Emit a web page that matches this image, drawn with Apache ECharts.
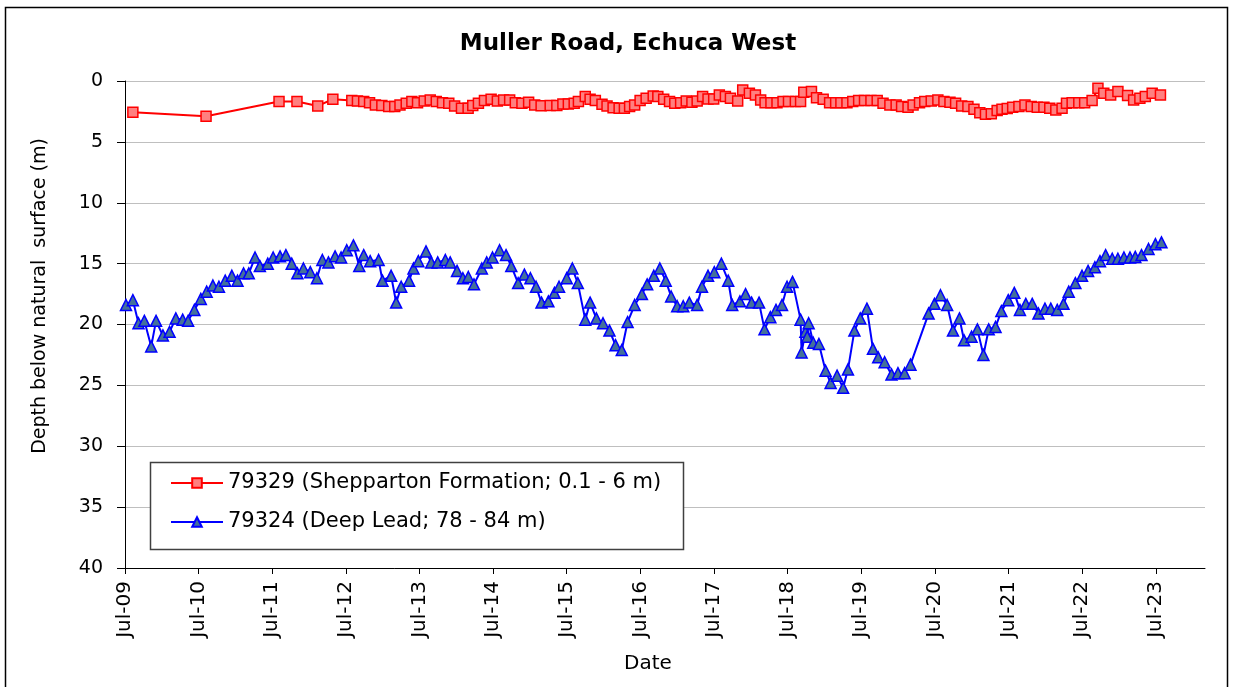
<!DOCTYPE html>
<html><head><meta charset="utf-8">
<script src="https://cdn.jsdelivr.net/npm/echarts@6/dist/echarts.min.js"></script>
<style>html,body{margin:0;padding:0;background:#fff}#c{width:1234px;height:687px}</style>
</head><body><div id="c"></div>
<script>
const chartTitle = 'Muller Road, Echuca West';
const yAxisTitle = 'Depth below natural  surface (m)';
const xAxisTitle = 'Date';
const seriesNames = ['79329 (Shepparton Formation; 0.1 - 6 m)', '79324 (Deep Lead; 78 - 84 m)'];

const xTickDates = ['2009-07-01','2010-07-01','2011-07-01','2012-07-01','2013-07-01','2014-07-01','2015-07-01','2016-07-01','2017-07-01','2018-07-01','2019-07-01','2020-07-01','2021-07-01','2022-07-01','2023-07-01'];
const xTickLabels = ['Jul-09','Jul-10','Jul-11','Jul-12','Jul-13','Jul-14','Jul-15','Jul-16','Jul-17','Jul-18','Jul-19','Jul-20','Jul-21','Jul-22','Jul-23'];
const xMin = '2009-07-01';
const xMax = '2024-03-01';
const yMin = 0, yMax = 40, yStep = 5;

const redDates = ['2009-08-09','2010-08-07','2011-08-04','2011-11-01','2012-02-12','2012-04-27','2012-07-30','2012-08-27','2012-09-27','2012-10-26','2012-11-24','2012-12-26','2013-01-29','2013-02-28','2013-03-26','2013-04-26','2013-05-24','2013-06-21','2013-07-24','2013-08-23','2013-09-22','2013-10-23','2013-11-23','2013-12-22','2014-01-25','2014-02-27','2014-03-22','2014-04-19','2014-05-19','2014-06-21','2014-07-22','2014-08-22','2014-09-21','2014-10-19','2014-11-21','2014-12-24','2015-01-23','2015-02-24','2015-04-10','2015-05-13','2015-06-12','2015-07-09','2015-08-07','2015-08-28','2015-10-01','2015-10-25','2015-11-20','2015-12-23','2016-01-17','2016-02-16','2016-03-17','2016-04-12','2016-05-08','2016-06-02','2016-06-29','2016-07-29','2016-09-02','2016-09-25','2016-10-24','2016-11-22','2016-12-18','2017-01-16','2017-02-13','2017-03-13','2017-04-08','2017-05-05','2017-06-01','2017-06-29','2017-07-27','2017-08-26','2017-09-20','2017-10-26','2017-11-20','2017-12-23','2018-01-22','2018-02-17','2018-03-11','2018-04-09','2018-05-09','2018-06-08','2018-07-05','2018-08-08','2018-09-03','2018-09-19','2018-10-27','2018-11-21','2018-12-24','2019-01-25','2019-02-24','2019-03-22','2019-04-21','2019-05-20','2019-06-18','2019-07-17','2019-08-18','2019-09-18','2019-10-17','2019-11-20','2019-12-21','2020-01-17','2020-02-18','2020-03-14','2020-04-15','2020-05-11','2020-06-12','2020-07-15','2020-08-14','2020-09-13','2020-10-11','2020-11-10','2020-12-11','2021-01-10','2021-02-08','2021-03-08','2021-04-06','2021-05-05','2021-05-29','2021-06-24','2021-07-21','2021-08-21','2021-09-20','2021-10-21','2021-11-20','2021-12-23','2022-01-21','2022-02-20','2022-03-23','2022-04-14','2022-05-12','2022-06-14','2022-07-13','2022-08-19','2022-09-17','2022-10-16','2022-11-19','2022-12-25','2023-02-11','2023-03-13','2023-04-13','2023-05-10','2023-06-13','2023-07-24'];
const redDepth = [2.57,2.9,1.69,1.69,2.05,1.5,1.61,1.64,1.69,1.78,1.97,2.02,2.1,2.1,1.97,1.83,1.69,1.78,1.64,1.56,1.69,1.78,1.83,2.05,2.24,2.24,2.02,1.83,1.61,1.5,1.64,1.56,1.56,1.78,1.83,1.75,1.97,2.03,2.02,2.02,1.89,1.89,1.83,1.69,1.28,1.5,1.61,1.91,2.05,2.19,2.24,2.24,2.1,1.97,1.61,1.42,1.23,1.28,1.5,1.69,1.83,1.78,1.64,1.75,1.64,1.28,1.48,1.48,1.15,1.28,1.42,1.64,0.74,1.01,1.15,1.56,1.78,1.78,1.78,1.69,1.69,1.69,1.69,0.93,0.87,1.37,1.5,1.78,1.78,1.78,1.78,1.69,1.61,1.61,1.61,1.61,1.83,1.97,1.97,2.1,2.16,1.97,1.78,1.69,1.64,1.56,1.69,1.75,1.83,2.05,2.1,2.32,2.6,2.73,2.7,2.43,2.32,2.25,2.16,2.1,1.97,2.1,2.16,2.16,2.24,2.38,2.24,1.83,1.78,1.78,1.78,1.61,0.6,1.01,1.15,0.87,1.2,1.56,1.42,1.28,1.01,1.15];

const blueDates = ['2009-07-06','2009-08-09','2009-09-06','2009-10-05','2009-11-08','2009-12-02','2010-01-05','2010-02-07','2010-03-10','2010-04-13','2010-05-10','2010-06-10','2010-07-12','2010-08-10','2010-09-10','2010-10-10','2010-11-10','2010-12-13','2011-01-10','2011-02-09','2011-03-07','2011-04-07','2011-05-01','2011-06-09','2011-07-06','2011-08-09','2011-09-07','2011-10-06','2011-11-03','2011-12-03','2012-01-06','2012-02-08','2012-03-06','2012-04-05','2012-05-08','2012-06-07','2012-07-05','2012-08-07','2012-09-05','2012-09-27','2012-10-29','2012-12-10','2012-12-29','2013-02-10','2013-03-07','2013-04-01','2013-05-10','2013-06-01','2013-06-25','2013-08-02','2013-08-28','2013-09-29','2013-11-06','2013-11-30','2014-01-03','2014-02-01','2014-02-28','2014-03-28','2014-05-06','2014-05-30','2014-06-28','2014-08-02','2014-09-03','2014-09-29','2014-11-02','2014-12-03','2015-01-02','2015-01-30','2015-02-26','2015-04-01','2015-05-01','2015-05-24','2015-07-01','2015-07-29','2015-08-25','2015-10-01','2015-10-25','2015-11-25','2015-12-28','2016-01-29','2016-02-28','2016-03-30','2016-04-28','2016-06-02','2016-07-08','2016-08-03','2016-09-05','2016-10-05','2016-11-03','2016-11-30','2016-12-30','2017-01-29','2017-02-28','2017-04-08','2017-05-02','2017-06-01','2017-07-02','2017-08-06','2017-09-09','2017-09-29','2017-11-06','2017-12-04','2018-01-03','2018-02-09','2018-03-08','2018-04-06','2018-05-04','2018-06-03','2018-06-28','2018-07-25','2018-09-03','2018-09-08','2018-09-27','2018-10-06','2018-10-13','2018-11-05','2018-12-03','2019-01-05','2019-01-30','2019-03-03','2019-04-02','2019-04-26','2019-05-28','2019-06-26','2019-07-29','2019-08-28','2019-09-23','2019-10-25','2019-11-28','2019-12-30','2020-02-01','2020-03-01','2020-05-30','2020-06-28','2020-07-28','2020-08-30','2020-09-28','2020-10-30','2020-11-22','2020-12-29','2021-01-27','2021-02-26','2021-03-24','2021-04-27','2021-05-26','2021-06-29','2021-07-29','2021-08-26','2021-09-24','2021-10-26','2021-11-26','2021-12-28','2022-01-26','2022-02-27','2022-03-30','2022-04-25','2022-05-28','2022-06-30','2022-07-30','2022-09-02','2022-09-27','2022-10-25','2022-11-27','2022-12-25','2023-01-24','2023-02-23','2023-03-21','2023-04-21','2023-05-26','2023-06-29','2023-07-29'];
const blueDepth = [18.4,18.0,19.9,19.7,21.8,19.7,20.9,20.6,19.5,19.6,19.7,18.8,17.9,17.3,16.8,16.9,16.4,16.0,16.4,15.8,15.8,14.5,15.2,15.0,14.5,14.4,14.3,15.0,15.8,15.4,15.7,16.2,14.7,14.9,14.4,14.5,13.9,13.5,15.2,14.3,14.8,14.7,16.4,16.0,18.2,16.9,16.4,15.4,14.8,14.0,14.9,14.9,14.7,14.9,15.6,16.2,16.1,16.7,15.4,14.9,14.5,13.9,14.3,15.2,16.6,15.9,16.2,16.9,18.2,18.1,17.4,16.9,16.2,15.4,16.6,19.6,18.2,19.5,19.9,20.5,21.7,22.1,19.8,18.4,17.5,16.7,16.0,15.4,16.4,17.7,18.5,18.5,18.2,18.4,16.9,16.0,15.7,15.0,16.4,18.4,18.1,17.5,18.2,18.2,20.4,19.4,18.8,18.4,16.9,16.5,19.6,22.3,20.6,21.0,19.9,21.5,21.6,23.8,24.8,24.2,25.2,23.7,20.5,19.5,18.7,22.0,22.7,23.1,24.1,24.0,24.0,23.3,19.1,18.3,17.6,18.4,20.5,19.5,21.3,21.0,20.4,22.5,20.4,20.2,18.9,18.0,17.4,18.8,18.3,18.3,19.1,18.7,18.7,18.8,18.3,17.3,16.6,16.0,15.6,15.3,14.8,14.3,14.6,14.6,14.5,14.5,14.45,14.3,13.8,13.4,13.25];

const FONT = 'DejaVu Sans';
const parse = s => +echarts.number.parseDate(s);
const tickValues = xTickDates.map(parse);

const chart = echarts.init(document.getElementById('c'), null, {renderer: 'canvas'});
chart.setOption({
  animation: false,
  backgroundColor: '#ffffff',
  grid: {left: 125, right: 29, top: 81, bottom: 119, outerBoundsMode: 'none'},
  xAxis: {
    type: 'value',
    min: parse(xMin),
    max: parse(xMax),
    axisLine: {onZero: false, lineStyle: {color: '#000', width: 1}},
    axisTick: {show: true, length: 6, customValues: tickValues, lineStyle: {color: '#000'}},
    axisLabel: {
      customValues: tickValues,
      rotate: 90,
      margin: 13,
      color: '#000',
      fontFamily: FONT,
      fontSize: 20,
      formatter: v => { const i = tickValues.indexOf(v); return i >= 0 ? xTickLabels[i] : ''; }
    },
    splitLine: {show: false},
    minorTick: {show: false}
  },
  yAxis: {
    type: 'value',
    inverse: true,
    min: yMin, max: yMax, interval: yStep,
    axisLine: {show: true, lineStyle: {color: '#000', width: 1}},
    axisTick: {show: true, length: 8, lineStyle: {color: '#000'}},
    axisLabel: {color: '#000', fontFamily: FONT, fontSize: 19, margin: 22},
    splitLine: {show: true, lineStyle: {color: '#BFBFBF', width: 1}}
  },
  legend: {
    orient: 'vertical',
    left: 170, top: 471,
    padding: 0,
    itemWidth: 52, itemHeight: 12,
    itemGap: 15,
    z: 10,
    textStyle: {color: '#000', fontFamily: FONT, fontSize: 21, lineHeight: 24},
    data: seriesNames
  },
  graphic: [
    {type: 'rect', silent: true, z: 1, shape: {x: 5.5, y: 7.5, width: 1222, height: 700}, style: {fill: 'none', stroke: '#000', lineWidth: 1.5}},
    {type: 'rect', silent: true, z: 3, shape: {x: 150.5, y: 462.5, width: 533, height: 87}, style: {fill: '#fff', stroke: '#404040', lineWidth: 1.5}},
    {type: 'text', silent: true, x: 628, y: 44, style: {text: chartTitle, font: 'bold 23px "DejaVu Sans"', fill: '#000', textAlign: 'center', textVerticalAlign: 'middle'}},
    {type: 'text', silent: true, x: 40, y: 296, rotation: Math.PI / 2, style: {text: yAxisTitle, font: '19px "DejaVu Sans"', fill: '#000', textAlign: 'center', textVerticalAlign: 'middle'}},
    {type: 'text', silent: true, x: 648, y: 664, style: {text: xAxisTitle, font: '20px "DejaVu Sans"', fill: '#000', textAlign: 'center', textVerticalAlign: 'middle'}}
  ],
  series: [
    {
      name: seriesNames[0], type: 'line',
      data: redDates.map((d, i) => [parse(d), redDepth[i]]),
      symbol: 'rect', symbolSize: 10,
      lineStyle: {color: '#FF0000', width: 2},
      itemStyle: {color: '#FF8080', borderColor: '#FF0000', borderWidth: 1.5},
      z: 4
    },
    {
      name: seriesNames[1], type: 'line',
      data: blueDates.map((d, i) => [parse(d), blueDepth[i]]),
      symbol: 'triangle', symbolSize: 11,
      lineStyle: {color: '#0000FF', width: 2},
      itemStyle: {color: '#44719A', borderColor: '#0000FF', borderWidth: 1.5},
      z: 4
    }
  ]
});
</script>
</body></html>
